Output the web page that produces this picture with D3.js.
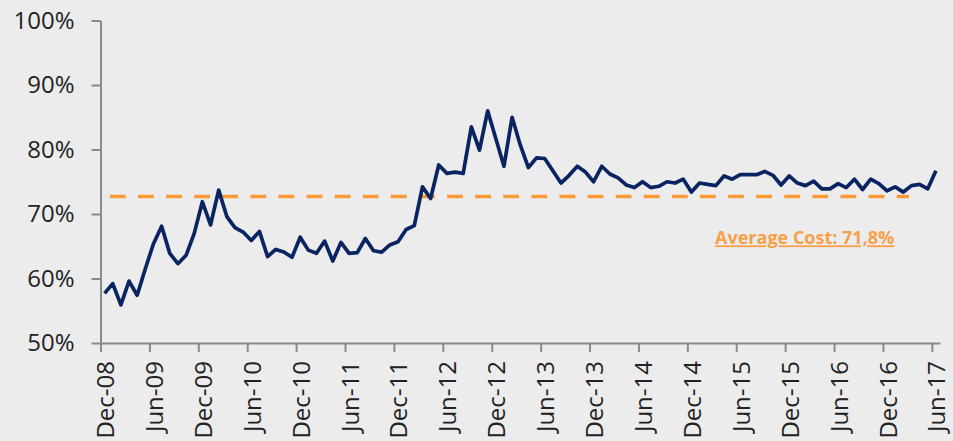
<!DOCTYPE html>
<html>
<head>
<meta charset="utf-8">
<script src="https://cdn.jsdelivr.net/npm/d3@7"></script>
<style>
  html, body { margin: 0; padding: 0; background: #ececec; }
  svg { display: block; font-family: "Open Sans", sans-serif; }
</style>
</head>
<body>
<div id="chart"></div>
<script>
// monthly values, Dec-08 .. Jun-17
const months = d3.range(103).map(i => d3.timeFormat("%b-%y")(new Date(2008, 11 + i, 1)));
const costValues = [
  57.7, 59.2, 55.9, 59.6, 57.4, 61.5, 65.4, 68.1, 63.9, 62.3, 63.6, 67.0,
  71.9, 68.3, 73.7, 69.6, 67.9, 67.2, 65.9, 67.3, 63.4, 64.5, 64.1, 63.3,
  66.4, 64.4, 63.9, 65.8, 62.7, 65.6, 63.9, 64.0, 66.2, 64.3, 64.1, 65.2,
  65.7, 67.6, 68.2, 74.2, 72.4, 77.6, 76.3, 76.5, 76.3, 83.5, 79.9, 86.0,
  81.7, 77.4, 85.0, 80.7, 77.2, 78.7, 78.6, 76.7, 74.8, 76.0, 77.4, 76.5,
  75.0, 77.4, 76.2, 75.6, 74.5, 74.1, 75.0, 74.1, 74.3, 75.0, 74.8, 75.4,
  73.4, 74.8, 74.6, 74.4, 75.9, 75.4, 76.1, 76.1, 76.1, 76.6, 76.0, 74.5,
  75.9, 74.8, 74.4, 75.1, 73.9, 73.9, 74.7, 74.1, 75.4, 73.8, 75.4, 74.7,
  73.6, 74.2, 73.4, 74.4, 74.6, 73.9, 76.7
];
const yTicks = [50, 60, 70, 80, 90, 100];
const labelEvery = 6;

// dashed average reference line (drawn level and span as in the source)
const avgLineValue = 72.7;
const avgLineFrom = 1.15, avgLineTo = 99.2;   // in month units
const avgLabel = "Average Cost: 71,8%";

// set the dimensions and margins of the graph
const margin = {top: 20.5, right: 13, bottom: 98, left: 100.5},
    width = 953 - margin.left - margin.right,
    height = 441 - margin.top - margin.bottom;

const svg = d3.select("#chart")
  .append("svg")
    .attr("width", 953)
    .attr("height", 441)
  .append("g")
    .attr("transform", `translate(${margin.left}, ${margin.top})`);

// X: one slot per month, tick marks on slot borders
const x = d3.scaleLinear()
    .domain([0, months.length])
    .range([0, width]);

const y = d3.scaleLinear()
    .domain([50, 100])
    .range([height, 0]);

const axisColor = "#8a8a8a";
const textColor = "#222";

// Y axis
const yAxis = svg.append("g")
    .call(d3.axisLeft(y).tickValues(yTicks).tickSize(9).tickSizeOuter(0).tickPadding(17)
      .tickFormat(d => d + "%"));
yAxis.selectAll("text")
    .style("font-size", "24px")
    .style("fill", textColor)
    .style("font-family", "'Open Sans', sans-serif");

// X axis tick marks
const tickIdx = d3.range(0, months.length, labelEvery);
const xAxis = svg.append("g")
    .attr("transform", `translate(0, ${height})`)
    .call(d3.axisBottom(x).tickValues(tickIdx).tickSize(9).tickSizeOuter(0).tickFormat(""));

// X labels, centred on their month
svg.append("g")
  .selectAll("text")
  .data(tickIdx)
  .join("text")
    .attr("transform", d => `translate(${x(d + 0.5)}, ${height + 18}) rotate(-90)`)
    .attr("text-anchor", "end")
    .attr("dominant-baseline", "central")
    .style("font-size", "24px")
    .style("fill", textColor)
    .text(d => months[d]);

svg.selectAll(".domain, .tick line")
    .attr("stroke", axisColor)
    .attr("stroke-width", 2);

// average line
svg.append("line")
    .attr("x1", x(avgLineFrom))
    .attr("x2", x(avgLineTo))
    .attr("y1", y(avgLineValue))
    .attr("y2", y(avgLineValue))
    .attr("stroke", "#f99a36")
    .attr("stroke-width", 3.5)
    .attr("stroke-dasharray", "15.8 12.3");

// cost line
const line = d3.line()
    .x((d, i) => x(i + 0.5))
    .y(d => y(d));

svg.append("path")
    .datum(costValues)
    .attr("fill", "none")
    .attr("stroke", "#0a2462")
    .attr("stroke-width", 3.7)
    .attr("stroke-linejoin", "round")
    .attr("d", line);

// label
svg.append("text")
    .attr("x", x(86.4))
    .attr("y", y(65.3))
    .attr("text-anchor", "middle")
    .style("font-size", "18px")
    .style("font-weight", "bold")
    .style("fill", "#f7a04a")
    .style("text-decoration", "underline")
    .text(avgLabel);
</script>
</body>
</html>
